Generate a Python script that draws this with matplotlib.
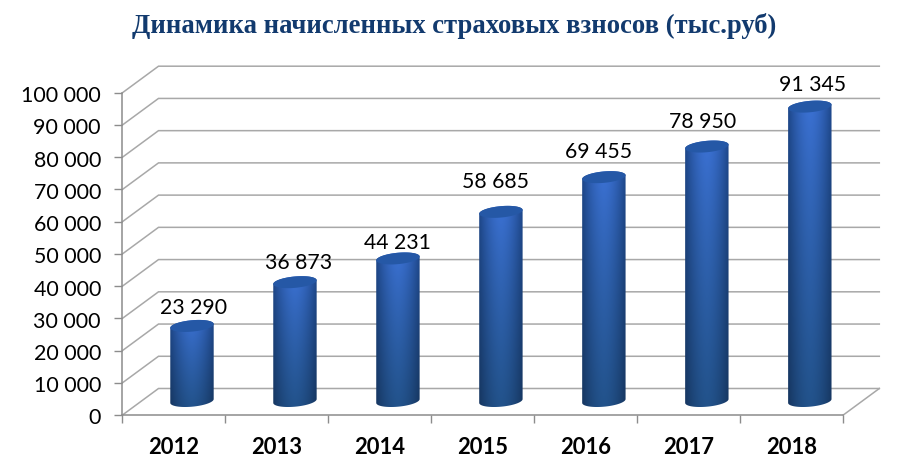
import numpy as np
import matplotlib
matplotlib.use('Agg')
import matplotlib.pyplot as plt
from matplotlib.patches import PathPatch
from matplotlib.path import Path
from matplotlib.transforms import ScaledTranslation

years = ['2012', '2013', '2014', '2015', '2016', '2017', '2018']
values = [23290, 36873, 44231, 58685, 69455, 78950, 91345]
y_ticks = [0, 10000, 20000, 30000, 40000, 50000, 60000, 70000, 80000, 90000, 100000]
title = 'Динамика начисленных страховых взносов (тыс.руб)'

W, H = 901, 463
left, right, bottom, top = 122.5, 843.3, 415.0, 92.7
grid_col = '#a8a8a8'
# the value labels were placed by hand in the original, offsets in points
label_offsets = [(1.4, 13.0), (2.4, 13.5), (-0.2, 11.3), (-3.6, 21.6), (-3.6, 18.3), (-3.1, 17.9), (2.2, 15.6)]

# depth of the fake 3d box, in data units
px_x = 7 / (right - left)
px_y = 100000 / (bottom - top)
depth_x = 36 * px_x
depth_y = 26.5 * px_y
lift = 14 * px_y
radius = 21.7 * px_x
ell_h = 5.7 * px_y
tilt = 1.9 * px_y

fig = plt.figure(figsize=(W / 100, H / 100), dpi=100, facecolor='white')
ax = fig.add_axes([left / W, 1 - bottom / H, (right - left) / W, (bottom - top) / H])
ax.patch.set_visible(False)


def ring(cx, cy, t):
    return cx + radius * np.cos(t), cy + ell_h * np.sin(t) + tilt * np.cos(t)


def shade(top_centre, top_edge, bot_centre, bot_edge):
    # cylinder shading: light in the middle, dark on the sides and at the foot
    u = np.linspace(-1, 1, 64)[None, :]
    v = np.linspace(0, 1, 128)[:, None]
    side = (np.abs(u) ** 1.7)[:, :, None]
    fall = (v ** 0.8)[:, :, None]
    tc, te = np.array(top_centre) / 255, np.array(top_edge) / 255
    bc, be = np.array(bot_centre) / 255, np.array(bot_edge) / 255
    t_row = tc * (1 - side) + te * side
    b_row = bc * (1 - side) + be * side
    return t_row * (1 - fall) + b_row * fall


def draw_cylinder(i, value):
    cx = i + 0.5 + depth_x / 2
    y0 = lift
    y1 = value + lift
    a = np.linspace(0, 2 * np.pi, 80)
    # body outline: lower half of foot ring, then upper half of top ring
    xb, yb = ring(cx, y0, np.linspace(np.pi, 2 * np.pi, 40))
    xt, yt = ring(cx, y1, np.linspace(0, np.pi, 40))
    verts = np.column_stack([np.r_[xb, xt], np.r_[yb, yt]])
    body = PathPatch(Path(verts), transform=ax.transData, fc='none', ec='none')
    ax.add_patch(body)
    im = ax.imshow(shade((60, 114, 214), (30, 72, 140), (34, 82, 138), (22, 54, 96)), origin='upper',
                   extent=[cx - radius, cx + radius, y0 - ell_h - tilt, y1 + ell_h + tilt],
                   aspect='auto', zorder=3, interpolation='bilinear')
    im.set_clip_path(body)
    xe, ye = ring(cx, y1, a)
    cap = PathPatch(Path(np.column_stack([xe, ye])), transform=ax.transData, fc='#2558a6', ec='none',
                    zorder=4, clip_on=False)
    ax.add_patch(cap)
    ax.annotate(f'{value:,}'.replace(',', ' '), (cx, y1), xytext=label_offsets[i], textcoords='offset points',
                ha='center', va='center', fontsize=15.3, family='Lato', color='black', zorder=5)


# back wall and side wall lines
for t in y_ticks:
    ax.plot([0, depth_x, 7 + depth_x], [t, t + depth_y, t + depth_y], color=grid_col, lw=1.1,
            clip_on=False, zorder=1, solid_joinstyle='miter')
ax.plot([7, 7 + depth_x], [0, depth_y], color=grid_col, lw=1.1, clip_on=False, zorder=1)

for i, v in enumerate(values):
    draw_cylinder(i, v)

ax.set_xlim(0, 7)
ax.set_ylim(0, 100000)

for s in ('top', 'right'):
    ax.spines[s].set_visible(False)
for s in ('left', 'bottom'):
    ax.spines[s].set_color('#8c8c8c')
    ax.spines[s].set_linewidth(1.1)

ax.set_yticks(y_ticks)
ax.set_yticklabels([f'{t:,}'.replace(',', ' ') for t in y_ticks], family='Lato', fontsize=15.4)
ax.tick_params(axis='y', length=5.5, width=1, color='#8c8c8c', pad=10)
for lab in ax.get_yticklabels():
    lab.set_transform(lab.get_transform() + ScaledTranslation(0, -1.5 / 100, fig.dpi_scale_trans))

ax.set_xticks(range(8))
ax.set_xticklabels([])
ax.tick_params(axis='x', which='major', length=5.5, width=1, color='#8c8c8c')
ax.set_xticks(np.arange(7) + 0.5, minor=True)
ax.set_xticklabels(years, minor=True, family='Lato', fontweight='bold', fontsize=15.8)
ax.tick_params(axis='x', which='minor', length=0, pad=16)

fig.text(454.5 / W, 1 - 26 / H, title, family='Liberation Serif', fontweight='bold', fontsize=19.2,
         color='#123a6e', ha='center', va='center')

fig.savefig('out.png', dpi=100)
